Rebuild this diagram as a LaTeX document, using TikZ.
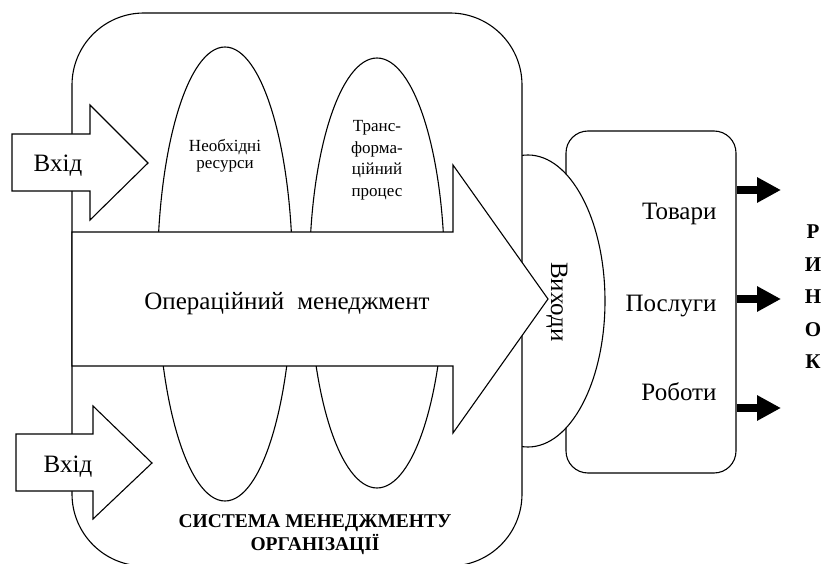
\documentclass[tikz,border=0pt]{standalone}
\usepackage{fontspec}
\setmainfont{Liberation Serif}
\usetikzlibrary{arrows.meta,shapes.geometric}
\begin{document}
\begin{tikzpicture}[x=1pt,y=-1pt,line width=1.1pt,
  shp/.style={draw,fill=white,inner sep=0pt},
  big/.style={font=\fontsize{25}{29}\selectfont,inner sep=0pt},
  small/.style={font=\fontsize{17}{20}\selectfont,inner sep=0pt},
  bold/.style={font=\fontsize{19.5}{23}\selectfont\bfseries,inner sep=0pt},
  letter/.style={font=\fontsize{21}{24}\selectfont\bfseries,inner sep=0pt,anchor=base},
  outarrow/.style={line width=8pt,-{Triangle[length=24pt,width=24pt]}}]
\useasboundingbox (0,0) rectangle (823,564);
% output box
\node[shp,rounded corners=22pt,minimum width=170pt,minimum height=342pt] (outbox) at (651,302) {};
% outputs ellipse
\node[shp,ellipse,minimum width=154pt,minimum height=292pt] (vyk) at (528,301) {};
% system box
\node[shp,rounded corners=72pt,minimum width=450pt,minimum height=553pt] (sys) at (297,289.5) {};
% inner ellipses
\node[shp,ellipse,minimum width=135pt,minimum height=454pt] (res) at (225,274) {};
\node[shp,ellipse,minimum width=135pt,minimum height=430pt] (trans) at (377,273) {};
% operational management arrow
\draw[fill=white] (72,232) -- (453,232) -- (453,165) -- (548,299) -- (453,433) -- (453,366) -- (72,366) -- cycle;
% input arrows
\draw[fill=white] (12,134) -- (90,134) -- (90,105) -- (148,163) -- (90,220) -- (90,191) -- (12,191) -- cycle;
\draw[fill=white] (16,434) -- (93,434) -- (93,406) -- (152,463) -- (93,519) -- (93,491) -- (16,491) -- cycle;
% texts
\node[big,anchor=base] (in1) at (58,172) {Вхід};
\node[big,anchor=base] (in2) at (68,472) {Вхід};
\node[big,anchor=base] (om) at (287,310) {Операційний\hspace{13pt}менеджмент};
\node[small,anchor=base] (res1) at (225,152) {Необхідні};
\node[small,anchor=base] (res2) at (225,169) {ресурси};
\node[small,anchor=base] (tr1) at (377,132) {Транс-};
\node[small,anchor=base] (tr2) at (377,153.5) {форма-};
\node[small,anchor=base] (tr3) at (377,175) {ційний};
\node[small,anchor=base] (tr4) at (377,196.5) {процес};
\node[big,rotate=-90] (vt) at (557,302) {Виходи};
\node[big,anchor=base east] (p1) at (717,220) {Товари};
\node[big,anchor=base east] (p2) at (717,312) {Послуги};
\node[big,anchor=base east] (p3) at (717,400) {Роботи};
\node[bold,anchor=base] (s1) at (315,527) {СИСТЕМА МЕНЕДЖМЕНТУ};
\node[bold,anchor=base] (s2) at (315,550) {ОРГАНІЗАЦІЇ};
% market letters
\node[letter] (m1) at (813,239) {Р};
\node[letter] (m2) at (813,271.5) {И};
\node[letter] (m3) at (813,304) {Н};
\node[letter] (m4) at (813,336.5) {О};
\node[letter] (m5) at (813,369) {К};
% output arrows
\coordinate (o1) at (781,190);
\coordinate (o2) at (781,299);
\coordinate (o3) at (781,408);
\draw[outarrow] (outbox.east |- o1) -- (o1);
\draw[outarrow] (outbox.east |- o2) -- (o2);
\draw[outarrow] (outbox.east |- o3) -- (o3);
\end{tikzpicture}
\end{document}
